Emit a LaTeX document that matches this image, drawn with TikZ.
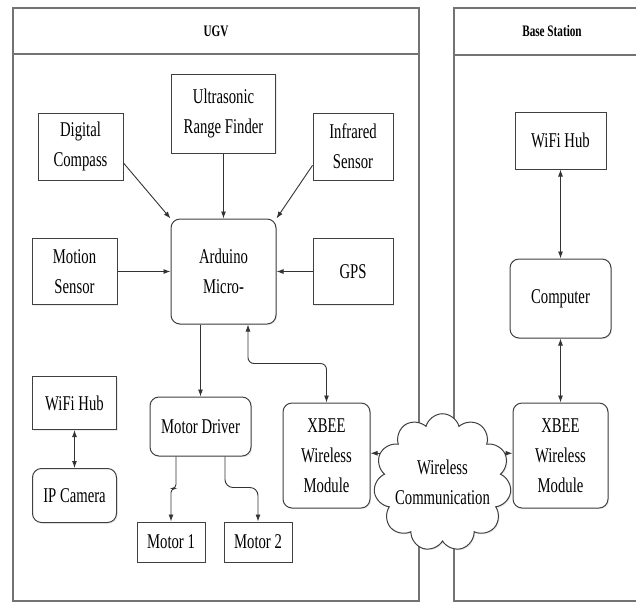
\documentclass[tikz,border=0pt]{standalone}
\usepackage{fontspec}
\setmainfont{Liberation Serif}[FakeStretch=0.7]
\usetikzlibrary{positioning,shapes.symbols,arrows.meta,shadows}

\begin{document}
\begin{tikzpicture}[x=1pt, y=-1pt,
	node distance=100pt,
	on grid,
	font=\fontsize{21}{30}\selectfont,
	block/.style={draw=black!75, line width=1pt, fill=white, align=center, inner sep=2pt,
		drop shadow={opacity=0.15, shadow xshift=1.2pt, shadow yshift=-1.2pt}},
	rblock/.style={block, rounded corners=9pt},
	frame/.style={draw=black!55, line width=1.2pt},
	header/.style={font=\bfseries\fontsize{16}{18}\selectfont},
	arrow/.style={draw=black!80, line width=0.9pt, -{Latex[length=7pt,width=5pt]}},
	biarrow/.style={arrow, {Latex[length=7pt,width=5pt]}-{Latex[length=7pt,width=5pt]}}]

\useasboundingbox (0,0) rectangle (636,603);

% Frames
\draw[frame] (13,8) rectangle (419,601);
\draw[frame] (13,54) -- (419,54);
\node[header] (ugvtitle) at (216,31) {UGV};

\draw[frame] (454,8) rectangle (650,601);
\draw[frame] (454,55) -- (650,55);
\node[header] (basetitle) at (552,31) {Base Station};

% UGV blocks
\node[rblock,
	minimum width=105pt, minimum height=105pt] (arduino) at (223.5,271.5) {Arduino\\Micro-};

\node[block,
	minimum width=85pt, minimum height=66pt,
	left=149pt of arduino] (motion) {Motion\\Sensor};

\node[block,
	minimum width=80pt, minimum height=66pt,
	right=129.5pt of arduino] (gps) {GPS};

\node[block,
	minimum width=104pt, minimum height=79pt,
	above=158pt of arduino] (ultra) {Ultrasonic\\Range Finder};

\node[block,
	minimum width=85pt, minimum height=67pt,
	above left=125pt and 143pt of arduino] (compass) {Digital\\Compass};

\node[block,
	minimum width=80pt, minimum height=67pt,
	above right=125pt and 129.5pt of arduino] (infrared) {Infrared\\Sensor};

\node[rblock,
	minimum width=101pt, minimum height=59pt,
	below left=155pt and 23pt of arduino] (driver) {Motor Driver};

\node[block,
	minimum width=68pt, minimum height=40pt,
	below left=115.5pt and 29.5pt of driver] (motor1) {Motor 1};

\node[block,
	minimum width=68pt, minimum height=40pt,
	right=87pt of motor1] (motor2) {Motor 2};

\node[rblock,
	minimum width=87pt, minimum height=105pt,
	below right=184pt and 103pt of arduino] (xbee) {XBEE\\Wireless\\Module};

\node[block,
	minimum width=84pt, minimum height=53pt,
	below=131.5pt of motion] (wifi) {WiFi Hub};

\node[rblock,
	minimum width=84pt, minimum height=54pt,
	below=92.5pt of wifi] (ipcam) {IP Camera};

% Cloud
\node[block, cloud, cloud puffs=11, aspect=1, inner sep=-6pt,
	minimum width=115pt, minimum height=121pt] (cloud) at (442.5,482.5) {Wireless\\Communication};

% Base station blocks
\node[rblock,
	minimum width=95pt, minimum height=105pt,
	right=234pt of xbee] (bxbee) {XBEE\\Wireless\\Module};

\node[rblock,
	minimum width=101pt, minimum height=79pt,
	above=157pt of bxbee] (computer) {Computer};

\node[block,
	minimum width=91pt, minimum height=57pt,
	above=158pt of computer] (bwifi) {WiFi Hub};

% connections
\draw[arrow] (compass.-21) -- (arduino.north west);
\draw[arrow] (ultra.south) -- (ultra.south |- arduino.north);
\draw[arrow] (infrared.-155) -- (arduino.north east);
\draw[arrow] (motion) -- (arduino);
\draw[arrow] (gps) -- (arduino);

\draw[arrow] (driver.north |- arduino.south) -- (driver.north);
\draw[biarrow, rounded corners=6pt] ([xshift=24.5pt]arduino.south) -- ++(0,39) -| (xbee.north);

\draw[arrow, rounded corners=4pt] ([xshift=-24.5pt]driver.south) -- ++(0,32) -| (motor1.north);
\draw[arrow, rounded corners=8pt] ([xshift=24.5pt]driver.south) -- ++(0,31) -| (motor2.north);

\draw[biarrow] (wifi) -- (ipcam);

\draw[arrow] (cloud.155) -- (cloud.155 -| xbee.east);
\draw[arrow] (cloud.25) -- (cloud.25 -| bxbee.west);

\draw[biarrow] (bwifi.south) -- (bwifi.south |- computer.north);
\draw[biarrow] (computer.south) -- (computer.south |- bxbee.north);

\end{tikzpicture}
\end{document}
